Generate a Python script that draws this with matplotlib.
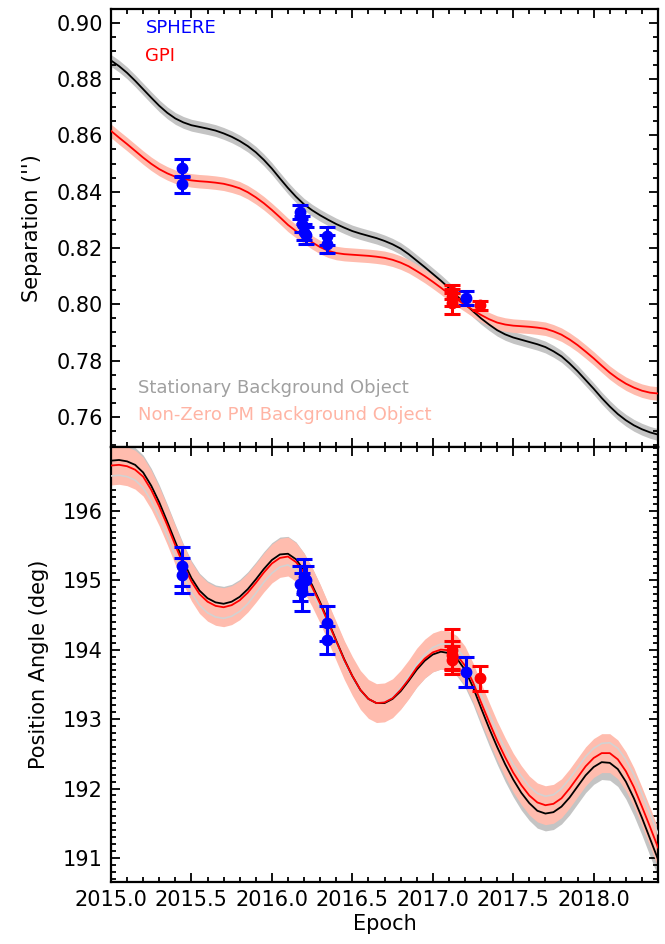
import matplotlib
matplotlib.use('Agg')
import matplotlib.pyplot as plt
from matplotlib.ticker import MultipleLocator, FormatStrFormatter
import numpy as np

# model epochs, every 0.05 yr
epoch = [2015.00, 2015.05, 2015.10, 2015.15, 2015.20, 2015.25, 2015.30, 2015.35, 2015.40, 2015.45,
         2015.50, 2015.55, 2015.60, 2015.65, 2015.70, 2015.75, 2015.80, 2015.85, 2015.90, 2015.95,
         2016.00, 2016.05, 2016.10, 2016.15, 2016.20, 2016.25, 2016.30, 2016.35, 2016.40, 2016.45,
         2016.50, 2016.55, 2016.60, 2016.65, 2016.70, 2016.75, 2016.80, 2016.85, 2016.90, 2016.95,
         2017.00, 2017.05, 2017.10, 2017.15, 2017.20, 2017.25, 2017.30, 2017.35, 2017.40, 2017.45,
         2017.50, 2017.55, 2017.60, 2017.65, 2017.70, 2017.75, 2017.80, 2017.85, 2017.90, 2017.95,
         2018.00, 2018.05, 2018.10, 2018.15, 2018.20, 2018.25, 2018.30, 2018.35, 2018.40]

# separation (arcsec)
sep_stationary = [0.8866, 0.8846, 0.8822, 0.8794, 0.8764, 0.8734, 0.8705, 0.8680, 0.8660, 0.8646,
                  0.8636, 0.8630, 0.8624, 0.8617, 0.8607, 0.8595, 0.8580, 0.8562, 0.8540, 0.8513,
                  0.8482, 0.8447, 0.8413, 0.8382, 0.8355, 0.8334, 0.8316, 0.8300, 0.8285, 0.8272,
                  0.8260, 0.8251, 0.8243, 0.8235, 0.8225, 0.8213, 0.8198, 0.8178, 0.8155, 0.8132,
                  0.8108, 0.8084, 0.8058, 0.8030, 0.8002, 0.7975, 0.7950, 0.7928, 0.7908, 0.7893,
                  0.7882, 0.7874, 0.7866, 0.7858, 0.7848, 0.7833, 0.7815, 0.7790, 0.7762, 0.7731,
                  0.7700, 0.7667, 0.7637, 0.7610, 0.7588, 0.7570, 0.7556, 0.7545, 0.7537]
sep_movingpm = [0.8616, 0.8592, 0.8569, 0.8545, 0.8521, 0.8499, 0.8480, 0.8465, 0.8453, 0.8445,
                0.8440, 0.8437, 0.8435, 0.8432, 0.8428, 0.8421, 0.8412, 0.8398, 0.8380, 0.8359,
                0.8335, 0.8309, 0.8282, 0.8260, 0.8240, 0.8220, 0.8203, 0.8190, 0.8182, 0.8178,
                0.8176, 0.8174, 0.8172, 0.8169, 0.8165, 0.8158, 0.8148, 0.8135, 0.8118, 0.8100,
                0.8080, 0.8059, 0.8037, 0.8017, 0.7998, 0.7979, 0.7962, 0.7947, 0.7935, 0.7928,
                0.7924, 0.7922, 0.7920, 0.7917, 0.7913, 0.7904, 0.7892, 0.7875, 0.7855, 0.7832,
                0.7808, 0.7782, 0.7757, 0.7736, 0.7718, 0.7704, 0.7693, 0.7686, 0.7683]
sep_band_stat = 0.0021
sep_band_pm = 0.0024

# position angle (deg)
pa_stationary = [196.72, 196.73, 196.71, 196.66, 196.55, 196.36, 196.12, 195.84, 195.55, 195.27,
                 195.03, 194.85, 194.74, 194.68, 194.66, 194.69, 194.76, 194.87, 195.01, 195.16,
                 195.29, 195.37, 195.38, 195.30, 195.14, 194.93, 194.68, 194.41, 194.13, 193.86,
                 193.62, 193.42, 193.29, 193.23, 193.23, 193.29, 193.40, 193.55, 193.71, 193.84,
                 193.93, 193.97, 193.95, 193.87, 193.71, 193.46, 193.16, 192.87, 192.60, 192.35,
                 192.13, 191.94, 191.79, 191.68, 191.64, 191.66, 191.74, 191.87, 192.03, 192.19,
                 192.31, 192.38, 192.37, 192.28, 192.10, 191.86, 191.58, 191.28, 190.98]
pa_movingpm = [196.65, 196.66, 196.64, 196.59, 196.49, 196.30, 196.06, 195.79, 195.50, 195.22,
               194.98, 194.80, 194.69, 194.63, 194.61, 194.64, 194.71, 194.82, 194.96, 195.11,
               195.24, 195.32, 195.34, 195.26, 195.11, 194.90, 194.66, 194.39, 194.12, 193.85,
               193.62, 193.42, 193.29, 193.23, 193.24, 193.30, 193.42, 193.57, 193.74, 193.87,
               193.96, 194.00, 193.99, 193.92, 193.77, 193.53, 193.24, 192.96, 192.69, 192.45,
               192.23, 192.05, 191.90, 191.80, 191.76, 191.78, 191.86, 192.00, 192.16, 192.32,
               192.44, 192.51, 192.51, 192.42, 192.25, 192.02, 191.74, 191.45, 191.15]
pa_movingpm_alt = [196.50, 196.51, 196.49, 196.44, 196.33, 196.14, 195.90, 195.63, 195.34, 195.06,
                   194.82, 194.64, 194.53, 194.47, 194.45, 194.48, 194.55, 194.66, 194.81, 194.97,
                   195.10, 195.19, 195.22, 195.15, 195.01, 194.82, 194.59, 194.33, 194.07, 193.81,
                   193.59, 193.40, 193.28, 193.23, 193.25, 193.32, 193.45, 193.61, 193.79, 193.93,
                   194.03, 194.08, 194.08, 194.02, 193.87, 193.64, 193.35, 193.08, 192.81, 192.57,
                   192.35, 192.18, 192.03, 191.93, 191.89, 191.91, 192.00, 192.14, 192.30, 192.46,
                   192.58, 192.65, 192.66, 192.58, 192.42, 192.20, 191.93, 191.64, 191.35]
pa_band_stat = 0.25
pa_band_pm = 0.28

# astrometry
sphere_epoch = [2015.44, 2015.44, 2016.175, 2016.19, 2016.20, 2016.21, 2016.345, 2016.345, 2017.205]
sphere_sep = [0.8484, 0.8427, 0.8328, 0.8285, 0.8258, 0.8245, 0.8244, 0.8214, 0.8023]
sphere_sep_err = [0.0032, 0.0030, 0.0025, 0.0030, 0.0028, 0.0030, 0.0032, 0.0033, 0.0024]
sphere_pa = [195.20, 195.07, 194.95, 194.83, 195.05, 195.00, 194.38, 194.14, 193.68]
sphere_pa_err = [0.28, 0.25, 0.25, 0.28, 0.25, 0.20, 0.25, 0.20, 0.22]

gpi_epoch = [2017.12, 2017.12, 2017.12, 2017.295]
gpi_sep = [0.8045, 0.8025, 0.8003, 0.7996]
gpi_sep_err = [0.0025, 0.0030, 0.0038, 0.0015]
gpi_pa = [194.00, 193.92, 193.85, 193.59]
gpi_pa_err = [0.30, 0.20, 0.20, 0.18]

GRAY_BAND = '#c4c4c4'
SALMON = '#ffbcae'

plt.rcParams['font.family'] = 'DejaVu Sans'
plt.rcParams['font.size'] = 15

fig = plt.figure(figsize=(6.65, 9.44), dpi=100)
ax1 = fig.add_axes([0.1669, 0.5265, 0.8226, 0.4640])
ax2 = fig.add_axes([0.1669, 0.0657, 0.8226, 0.4608], sharex=ax1)


def draw_models(ax, t, stat, pm, w_stat, w_pm, alt=None):
    t = np.asarray(t)
    stat = np.asarray(stat)
    pm = np.asarray(pm)
    ax.fill_between(t, stat - w_stat, stat + w_stat, color=GRAY_BAND, lw=0, zorder=1)
    ax.fill_between(t, pm - w_pm, pm + w_pm, color=SALMON, lw=0, zorder=2)
    if alt is not None:
        ax.plot(t, alt, color='#d2d2d2', lw=1.2, zorder=3)
    ax.plot(t, stat, color='black', lw=1.3, zorder=4)
    ax.plot(t, pm, color='red', lw=1.3, zorder=4)


def draw_points(ax, t, y, err, color):
    ax.errorbar(t, y, yerr=err, fmt='o', color=color, ms=7.5, elinewidth=2.2,
                capsize=5.5, capthick=2.2, zorder=6)


draw_models(ax1, epoch, sep_stationary, sep_movingpm, sep_band_stat, sep_band_pm)
draw_points(ax1, sphere_epoch, sphere_sep, sphere_sep_err, 'blue')
draw_points(ax1, gpi_epoch, gpi_sep, gpi_sep_err, 'red')

draw_models(ax2, epoch, pa_stationary, pa_movingpm, pa_band_stat, pa_band_pm,
            alt=pa_movingpm_alt)
draw_points(ax2, sphere_epoch, sphere_pa, sphere_pa_err, 'blue')
draw_points(ax2, gpi_epoch, gpi_pa, gpi_pa_err, 'red')

ax1.set_xlim(2015.0, 2018.4)
ax1.set_ylim(0.7493, 0.9049)
ax2.set_ylim(190.655, 196.917)

ax1.yaxis.set_major_locator(MultipleLocator(0.02))
ax1.yaxis.set_minor_locator(MultipleLocator(0.005))
ax1.yaxis.set_major_formatter(FormatStrFormatter('%.2f'))
ax2.yaxis.set_major_locator(MultipleLocator(1))
ax2.yaxis.set_minor_locator(MultipleLocator(0.1))
ax2.xaxis.set_major_locator(MultipleLocator(0.5))
ax2.xaxis.set_minor_locator(MultipleLocator(0.1))
ax2.xaxis.set_major_formatter(FormatStrFormatter('%.1f'))

for ax in (ax1, ax2):
    ax.tick_params(which='both', direction='in', top=True, right=True, width=1.3)
    ax.tick_params(which='major', length=6.5, pad=6)
    ax.tick_params(which='minor', length=3.5)
    for s in ax.spines.values():
        s.set_linewidth(1.6)
ax1.tick_params(labelbottom=False)

ax1.set_ylabel("Separation ('')", labelpad=10)
ax2.set_ylabel('Position Angle (deg)', labelpad=10)
ax2.set_xlabel('Epoch', labelpad=3)

ax1.text(0.063, 0.957, 'SPHERE', color='blue', fontsize=13, transform=ax1.transAxes, va='center')
ax1.text(0.063, 0.893, 'GPI', color='red', fontsize=13, transform=ax1.transAxes, va='center')
ax1.text(0.05, 0.135, 'Stationary Background Object', color='#a0a0a0', fontsize=13,
         transform=ax1.transAxes, va='center')
ax1.text(0.05, 0.073, 'Non-Zero PM Background Object', color='#ffb4a4', fontsize=13,
         transform=ax1.transAxes, va='center')

fig.savefig('out.png', dpi=100)
